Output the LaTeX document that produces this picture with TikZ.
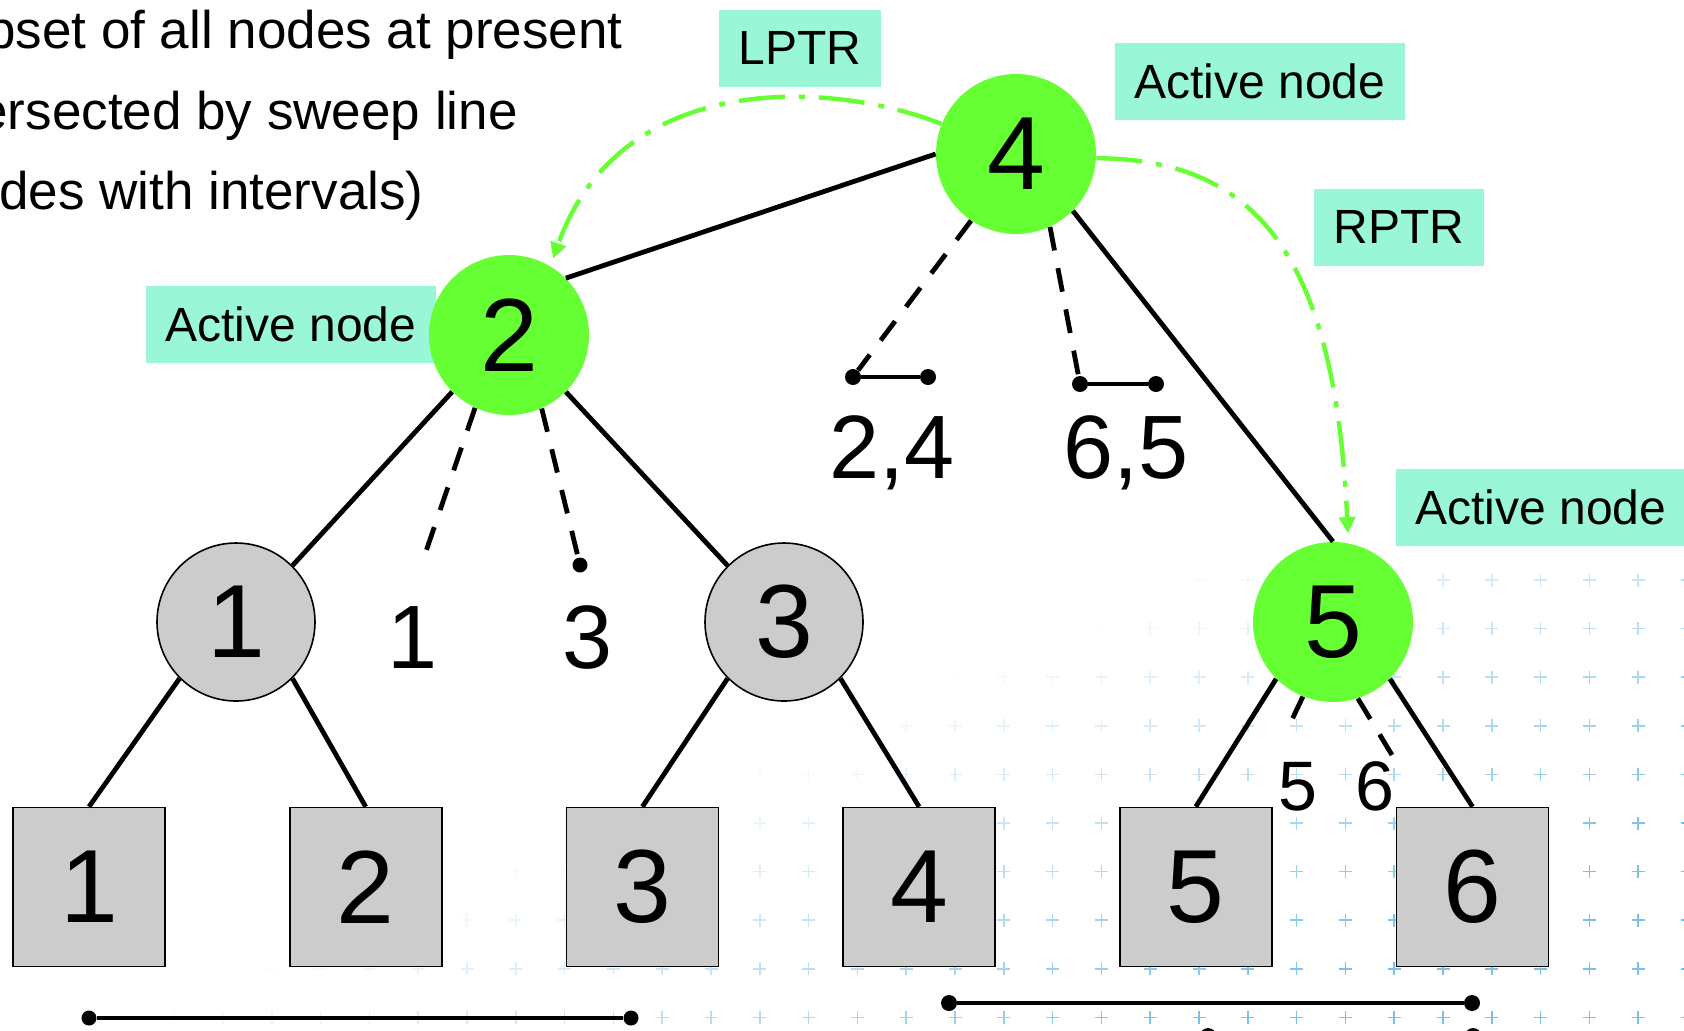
\documentclass[tikz,border=0pt]{standalone}
\usepackage{fontspec}
\setmainfont{Liberation Sans}
\usepackage{xcolor}
\usetikzlibrary{arrows.meta}
\definecolor{actgreen}{HTML}{66FF33}
\definecolor{tagfill}{HTML}{99F7D7}
\definecolor{nodegray}{HTML}{CCCCCC}
\definecolor{crossblue}{HTML}{74BDE8}
\tikzset{
  actv/.style={circle,fill=actgreen,minimum size=80pt,inner sep=0pt,font=\fontsize{52}{52}\selectfont},
  pasv/.style={circle,draw=black,line width=0.8pt,fill=nodegray,minimum size=79pt,inner sep=0pt,font=\fontsize{52}{52}\selectfont},
  leaf/.style={draw=black,line width=0.8pt,fill=nodegray,minimum width=76pt,minimum height=79.5pt,inner sep=0pt,font=\fontsize{52}{52}\selectfont},
  ptrtag/.style={fill=tagfill,minimum height=38.5pt,inner xsep=10pt,font=\fontsize{24}{24}\selectfont},
  link/.style={line width=2.4pt},
  probe/.style={line width=2.4pt,dash pattern=on 12pt off 9pt},
  ptr/.style={draw=actgreen,line width=2.2pt,dash pattern=on 23pt off 7pt on 3pt off 7pt,-{Triangle[length=8pt,width=8pt]}},
  ival/.style={line width=1.9pt},
  endpt/.style={circle,fill=black,inner sep=0pt,minimum size=#1},
  endpt/.default=8pt,
  nums/.style={font=\fontsize{45}{45}\selectfont,inner sep=0pt,anchor=base},
  smallnums/.style={font=\fontsize{35}{35}\selectfont,inner sep=0pt,anchor=base},
  desc/.style={font=\fontsize{26.5}{26.5}\selectfont,inner sep=0pt,anchor=base east}
}
\begin{document}
\begin{tikzpicture}[x=0.5pt,y=-0.5pt]
  \useasboundingbox (0,0) rectangle (1684,1030);
  \clip (0,0) rectangle (1684,1030);
  \fill[white] (0,0) rectangle (1684,1030);

  \foreach \j in {0,...,9}{
    \foreach \i in {0,...,35}{
      \pgfmathsetmacro\px{-21+48.8*\i}
      \pgfmathsetmacro\py{580+48.6*\j}
      \pgfmathsetmacro\op{max(0,min(0.95,0.000857*\px+0.00202*\py-2.15))}
      \ifdim\op pt>0.02pt
        \draw[crossblue,line width=0.8pt,draw opacity=\op] (\px-6.5,\py) -- (\px+6.5,\py) (\px,\py-6.5) -- (\px,\py+6.5);
      \fi
    }
  }

  \node[desc] (d1) at (623,48) {bset of all nodes at present};
  \node[desc] (d2) at (518,129) {ersected by sweep line};
  \node[desc] (d3) at (424,209) {des with intervals)};

  \node[ptrtag] (lp) at (800,48) {LPTR};
  \node[ptrtag] (act4) at (1260,81) {Active node};
  \node[ptrtag] (rp) at (1399,227) {RPTR};
  \node[ptrtag] (act2) at (291,324) {Active node};
  \node[ptrtag] (act5) at (1541,507) {Active node};

  \node[actv] (n4) at (1016,154) {4};
  \node[actv] (n2) at (509,335) {2};
  \node[actv] (n5) at (1333,622) {5};
  \node[pasv] (n1) at (236,622) {1};
  \node[pasv] (n3) at (784,622) {3};
  \foreach \i in {1,...,6}
    \node[leaf] (l\i) at ({89+276.7*(\i-1)},887) {\i};

  \draw[link] (n2.45) -- (n4.180);
  \draw[link] (n4.-45) -- (n5.90);
  \draw[link] (n2.-135) -- (n1.45);
  \draw[link] (n2.-45) -- (n3.135);
  \draw[link] (n1.-135) -- (l1.north);
  \draw[link] (n1.-45) -- (l2.north);
  \draw[link] (n3.-135) -- (l3.north);
  \draw[link] (n3.-45) -- (l4.north);
  \draw[link] (n5.-135) -- (l5.north);
  \draw[link] (n5.-45) -- (l6.north);

  \coordinate (e1) at (422,563);
  \node[endpt=7.5pt] (e3) at (580,565) {};
  \draw[probe] (n2.-115) -- (e1);
  \draw[probe] (n2.-66) -- (e3);

  \node[endpt] (a24) at (853,377) {};
  \node[endpt] (b24) at (928,377) {};
  \node[endpt] (a65) at (1080,384) {};
  \node[endpt] (b65) at (1156,384) {};
  \draw[probe] (n4.-124) -- (a24);
  \draw[probe] (n4.-65) -- (a65);
  \draw[ival] (a24) -- (b24);
  \draw[ival] (a65) -- (b65);

  \coordinate (e5) at (1288,728);
  \coordinate (e6) at (1392,755);
  \draw[probe] (n5.-112) -- (e5);
  \draw[probe] (n5.-72) -- (e6);

  \node[nums] (t1) at (413,668) {1};
  \node[nums] (t3) at (588,668) {3};
  \node[nums] (t24) at (892,478) {2,4};
  \node[nums] (t65) at (1126,478) {6,5};
  \node[smallnums] (t5) at (1298,810) {5};
  \node[smallnums] (t6) at (1375,810) {6};

  \draw[ptr,shorten >=4pt] (n4.158) .. controls (830,80) and (620,70) .. (n2.59);
  \draw[ptr,shorten >=5pt] (n4.-3) .. controls (1260,159) and (1335,260) .. (n5.79);

  \node[endpt=7.5pt] (s1a) at (89,1018) {};
  \node[endpt=7.5pt] (s1b) at (631,1018) {};
  \node[endpt] (s2a) at (949,1003) {};
  \node[endpt] (s2b) at (1472,1003) {};
  \node[endpt] (s3a) at (1208,1036) {};
  \node[endpt] (s3b) at (1473,1036) {};
  \draw[ival] (s1a) -- (s1b);
  \draw[ival] (s2a) -- (s2b);
  \draw[ival] (s3a) -- (s3b);
\end{tikzpicture}
\end{document}
